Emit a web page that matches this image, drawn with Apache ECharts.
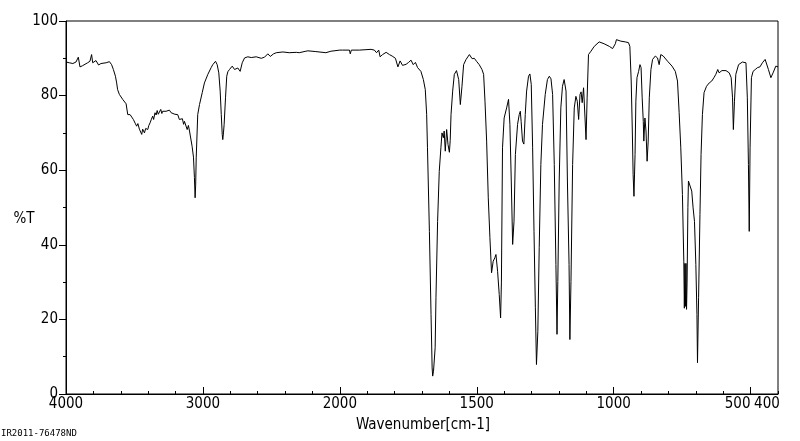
<!DOCTYPE html>
<html>
<head>
<meta charset="utf-8">
<script src="https://cdn.jsdelivr.net/npm/echarts@6/dist/echarts.min.js"></script>
<style>
  html, body { margin: 0; padding: 0; background: #fff; }
  #chart { width: 800px; height: 441px; }
</style>
</head>
<body>
<div id="chart"></div>
<script>
// IR spectrum
var wavenumbers = [
  4000, 3976, 3950, 3927, 3910, 3898, 3880, 3866, 3842, 3825, 3813, 3805, 3781, 3762, 3745, 3732, 3707, 3683, 3667, 3654,
  3639, 3630, 3623, 3610, 3586, 3561, 3549, 3532, 3508, 3495, 3484, 3475, 3464, 3455, 3447, 3440, 3427, 3418, 3403, 3395,
  3386, 3378, 3367, 3360, 3350, 3342, 3334, 3326, 3318, 3308, 3300, 3294, 3280, 3269, 3256, 3245, 3232, 3220, 3205, 3195,
  3184, 3172, 3159, 3150, 3141, 3135, 3124, 3115, 3106, 3098, 3086, 3079, 3069, 3062, 3057, 3053, 3049, 3038, 3025, 3005,
  2989, 2964, 2940, 2928, 2908, 2896, 2884, 2874, 2866, 2859, 2855, 2850, 2845, 2835, 2826, 2818, 2806, 2786, 2769, 2745,
  2728, 2713, 2696, 2672, 2647, 2611, 2574, 2550, 2526, 2508, 2484, 2464, 2416, 2370, 2318, 2297, 2248, 2233, 2175, 2102,
  2065, 2000, 1990, 1965, 1962, 1958, 1929, 1886, 1874, 1866, 1858, 1853, 1844, 1831, 1819, 1809, 1797, 1793, 1788, 1780,
  1771, 1758, 1749, 1740, 1732, 1724, 1716, 1704, 1695, 1688, 1683, 1680, 1673, 1667, 1663, 1661, 1658, 1652, 1649, 1643,
  1637, 1631, 1627, 1622, 1619, 1615, 1610, 1605, 1600, 1597, 1594, 1588, 1582, 1574, 1566, 1560, 1554, 1548, 1539, 1527,
  1517, 1509, 1501, 1491, 1481, 1475, 1470, 1464, 1458, 1452, 1446, 1440, 1434, 1430, 1424, 1418, 1413, 1410, 1406, 1400,
  1391, 1384, 1379, 1374, 1369, 1364, 1359, 1351, 1345, 1341, 1338, 1333, 1328, 1323, 1318, 1311, 1306, 1301, 1296, 1291,
  1286, 1282, 1277, 1272, 1266, 1260, 1250, 1242, 1235, 1229, 1223, 1217, 1211, 1207, 1204, 1199, 1193, 1187, 1181, 1174,
  1169, 1163, 1160, 1156, 1150, 1144, 1138, 1133, 1128, 1123, 1119, 1115, 1110, 1106, 1101, 1097, 1092, 1083, 1071, 1053,
  1035, 1016, 1004, 994, 990, 974, 958, 946, 941, 936, 932, 929, 926, 922, 919, 915, 909, 904, 900, 896,
  892, 890, 886, 882, 878, 874, 870, 864, 858, 848, 840, 834, 828, 819, 803, 787, 775, 767, 761, 755,
  749, 744, 742, 740, 738, 736, 734, 732, 729, 727, 722, 715, 710, 705, 700, 696, 694, 690, 685, 681,
  676, 670, 661, 651, 642, 634, 627, 620, 615, 605, 590, 578, 571, 566, 563, 559, 554, 544, 530, 517,
  512, 508, 505, 502, 497, 491, 483, 475, 466, 457, 447, 441, 435, 426, 418, 408, 400
];
var transmittance = [
  89.0, 88.8, 88.6, 89.0, 90.3, 87.7, 88.0, 88.3, 88.8, 89.2, 91.0, 88.8, 89.4, 88.2, 88.6, 88.5, 88.8, 89.1, 88.3, 87.0,
  85.2, 83.4, 81.6, 80.3, 79.0, 77.8, 74.9, 74.9, 73.6, 72.6, 71.8, 72.5, 71.0, 70.6, 69.6, 71.0, 70.0, 71.2, 70.9, 72.0,
  72.7, 73.5, 74.5, 73.6, 75.4, 74.8, 76.0, 75.0, 75.2, 76.3, 75.2, 75.8, 75.9, 75.8, 75.6, 76.1, 75.4, 75.4, 75.0, 74.8,
  74.9, 73.6, 73.1, 73.8, 72.3, 73.1, 72.8, 70.9, 72.0, 70.5, 70.5, 66.4, 63.5, 58.0, 52.6, 56.0, 63.3, 74.9, 77.6, 80.8,
  83.4, 85.7, 87.5, 88.3, 89.2, 88.3, 86.1, 81.2, 74.9, 69.6, 68.2, 70.0, 72.3, 79.4, 85.2, 86.4, 87.0, 87.9, 87.0, 87.4,
  86.5, 88.8, 90.1, 90.4, 90.2, 90.4, 90.0, 90.3, 91.2, 90.5, 91.2, 91.5, 91.7, 91.5, 91.6, 91.5, 91.9, 92.0, 91.8, 91.5,
  91.9, 92.2, 92.2, 92.2, 91.2, 92.2, 92.2, 92.4, 92.2, 91.5, 92.2, 90.4, 91.0, 91.6, 91.0, 90.6, 90.0, 89.7, 87.7, 89.3,
  88.1, 88.4, 88.9, 89.5, 88.3, 88.9, 87.5, 86.5, 84.3, 81.6, 75.0, 66.0, 43.6, 21.3, 7.0, 4.8, 6.1, 12.4, 25.8, 46.3,
  59.7, 66.0, 70.0, 68.7, 70.5, 65.1, 70.9, 66.9, 64.8, 68.0, 74.9, 81.2, 85.7, 86.7, 84.3, 77.6, 82.5, 88.3, 89.7, 91.0,
  89.9, 90.0, 89.2, 88.3, 87.0, 85.7, 78.5, 67.8, 52.6, 41.9, 32.5, 35.6, 36.5, 37.4, 32.9, 26.7, 20.4, 30.0, 66.0, 74.0,
  76.7, 79.0, 72.3, 57.1, 40.1, 46.3, 64.2, 72.3, 74.9, 75.8, 73.1, 67.8, 67.0, 74.9, 81.2, 85.2, 85.8, 83.0, 66.0, 43.6,
  23.1, 7.9, 16.8, 39.2, 61.5, 72.3, 80.3, 84.3, 85.2, 84.5, 80.3, 61.5, 34.7, 16.0, 30.2, 57.1, 76.7, 82.5, 84.3, 81.2,
  57.1, 34.7, 14.6, 30.2, 61.5, 76.7, 79.8, 78.5, 73.6, 80.3, 81.0, 78.1, 82.1, 81.8, 68.2, 79.4, 91.0, 91.9, 93.2, 94.4,
  93.9, 93.2, 92.6, 93.9, 95.0, 94.6, 94.4, 94.2, 93.2, 83.9, 70.5, 58.8, 53.0, 64.2, 78.5, 84.8, 86.5, 88.3, 87.5, 79.4,
  73.1, 67.8, 74.0, 70.5, 62.4, 67.8, 79.4, 87.0, 89.7, 90.6, 90.1, 88.3, 91.0, 90.6, 89.2, 87.9, 86.5, 83.9, 75.4, 66.0,
  53.5, 35.6, 23.0, 35.0, 23.5, 35.0, 22.7, 30.0, 50.0, 57.1, 57.1, 54.4, 49.9, 46.3, 34.7, 21.3, 8.4, 25.8, 48.1, 64.2,
  74.9, 80.8, 82.5, 83.4, 83.9, 84.8, 85.7, 87.0, 86.1, 86.7, 86.7, 86.1, 84.8, 79.4, 70.9, 78.5, 85.7, 88.3, 89.0, 88.8,
  79.4, 61.5, 43.6, 66.0, 84.8, 86.5, 87.0, 87.5, 87.7, 88.8, 89.7, 89.3, 87.0, 84.8, 86.1, 87.9, 87.7
];
var xLabelValues = [4000, 3000, 2000, 1500, 1000, 500, 400];
var xMajorTicks = [4000, 3000, 2000, 1500, 1000, 500];

// 4000-2000 is printed at half the scale of 2000-400
function toAxis(w) {
  return w >= 2000 ? 4000 - w : 2000 + 2 * (2000 - w);
}
function fromAxis(u) {
  return u <= 2000 ? 4000 - u : 2000 - (u - 2000) / 2;
}

var points = [];
for (var i = 0; i < wavenumbers.length; i++) {
  points.push([toAxis(wavenumbers[i]), transmittance[i]]);
}

var font = '"DejaVu Sans Condensed", "Liberation Sans Narrow", sans-serif';

var myChart = echarts.init(document.getElementById('chart'));
var option = {
  backgroundColor: '#fff',
  animation: false,
  grid: {
    left: 66, top: 21, right: 22, bottom: 47,
    show: true, borderColor: '#000', borderWidth: 1
  },
  xAxis: [
    {
      type: 'value',
      position: 'bottom',
      min: 0,
      max: toAxis(400),
      interval: 1000,
      axisLine: { lineStyle: { color: '#000', width: 1 } },
      axisTick: {
        inside: true, length: 7,
        customValues: xMajorTicks.map(toAxis),
        lineStyle: { color: '#000' }
      },
      axisLabel: {
        customValues: xLabelValues.map(toAxis),
        showMinLabel: true,
        showMaxLabel: true,
        hideOverlap: false,
        margin: 3,
        color: '#000',
        fontFamily: font,
        fontSize: 15,
        formatter: function (u) {
          var w = Math.round(fromAxis(u));
          if (w === 500) return '{a|500}';
          if (w === 400) return '{b|400}';
          return String(w);
        },
        rich: {
          // 500 and 400 sit too close, the printout nudges them apart
          a: { fontFamily: font, fontSize: 15, color: '#000', padding: [0, 26, 0, 0] },
          b: { fontFamily: font, fontSize: 15, color: '#000', padding: [0, 22, 0, 0] }
        }
      },
      splitLine: { show: false }
    },
    {
      // short ticks every 200 cm-1 above 2000, every 100 below
      type: 'value',
      position: 'bottom',
      min: 0,
      max: toAxis(400),
      interval: 200,
      axisLine: { show: false },
      axisTick: { inside: true, length: 3, lineStyle: { color: '#000' } },
      axisLabel: { show: false },
      splitLine: { show: false }
    }
  ],
  yAxis: {
    type: 'value',
    min: 0,
    max: 100,
    interval: 20,
    axisLine: { show: true, lineStyle: { color: '#000', width: 1 } },
    axisTick: { show: true, length: 7, lineStyle: { color: '#000' } },
    minorTick: { show: true, splitNumber: 2, length: 3, lineStyle: { color: '#000' } },
    axisLabel: { margin: 8, color: '#000', fontFamily: font, fontSize: 15, showMinLabel: true, showMaxLabel: true },
    splitLine: { show: false }
  },
  graphic: [
    {
      type: 'text', x: 24, y: 219,
      style: { text: '%T', fill: '#000', font: '15px ' + font, textAlign: 'center', textVerticalAlign: 'middle' }
    },
    {
      type: 'text', x: 423, y: 425,
      style: { text: 'Wavenumber[cm-1]', fill: '#000', font: '15px ' + font, textAlign: 'center', textVerticalAlign: 'middle' }
    },
    {
      type: 'text', x: 1, y: 434,
      style: { text: 'IR2011-76478ND', fill: '#000', font: '9px "DejaVu Sans Mono", monospace', textAlign: 'left', textVerticalAlign: 'middle' }
    }
  ],
  series: [
    {
      type: 'line',
      xAxisIndex: 0,
      data: points,
      showSymbol: false,
      symbol: 'none',
      sampling: null,
      lineStyle: { color: '#000', width: 1 },
      silent: true
    }
  ]
};
myChart.setOption(option);
</script>
</body>
</html>
